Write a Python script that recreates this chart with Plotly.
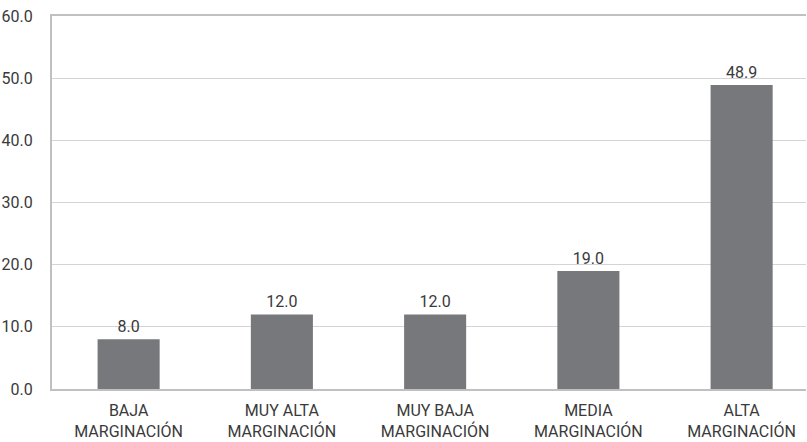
import plotly.graph_objects as go

categories = ["BAJA<br>MARGINACIÓN", "MUY ALTA<br>MARGINACIÓN", "MUY BAJA<br>MARGINACIÓN",
              "MEDIA<br>MARGINACIÓN", "ALTA<br>MARGINACIÓN"]
values = [8.0, 12.0, 12.0, 19.0, 48.9]
y_ticks = [0, 10, 20, 30, 40, 50, 60]
y_tick_labels = ["0.0", "10.0", "20.0", "30.0", "40.0", "50.0", "60.0"]

FONT = "Roboto, Arial, sans-serif"
TEXT = "#3a3a3a"

fig = go.Figure(go.Bar(
    x=list(range(len(categories))),
    y=values,
    width=0.405,
    marker=dict(color="#77787b", line=dict(width=0)),
    text=[f"{v:.1f}" for v in values],
    textposition="outside",
    textfont=dict(family=FONT, size=16, color=TEXT),
    cliponaxis=False,
))

fig.update_layout(
    width=807, height=442,
    margin=dict(l=52, r=1, t=16, b=53),
    paper_bgcolor="white", plot_bgcolor="white",
    showlegend=False,
    font=dict(family=FONT, size=16, color=TEXT),
    xaxis=dict(
        range=[-0.5, 4.42],
        tickmode="array", tickvals=list(range(len(categories))), ticktext=categories,
        showgrid=False, zeroline=False,
        showline=True, linecolor="#c0c0c2", linewidth=2, mirror=True,
        ticks="", ticklabelstandoff=6,
        tickfont=dict(family=FONT, size=16, color=TEXT),
    ),
    yaxis=dict(
        range=[0, 60],
        tickmode="array", tickvals=y_ticks, ticktext=y_tick_labels,
        showgrid=True, gridcolor="#d4d4d6", gridwidth=1,
        zeroline=False,
        showline=True, linecolor="#c0c0c2", linewidth=2,
        ticks="", ticklabelstandoff=14,
        tickfont=dict(family=FONT, size=16, color=TEXT),
    ),
)

fig.write_html("out.html")
